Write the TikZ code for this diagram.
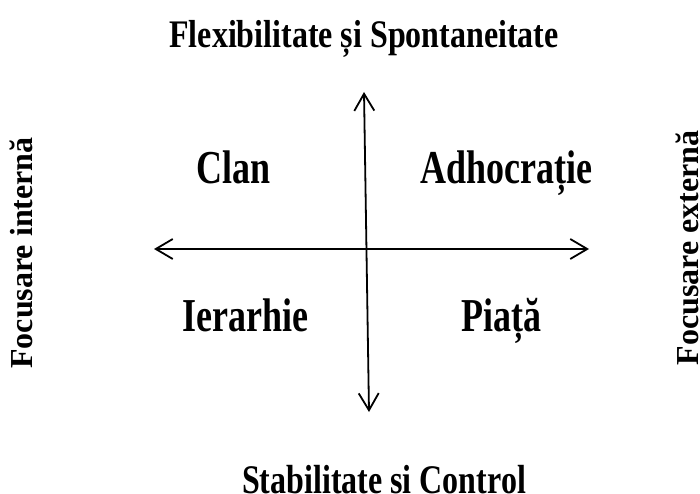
\documentclass[tikz,border=0pt]{standalone}
\usepackage{fontspec}
\usepackage{graphicx}
\setmainfont{Liberation Serif}
\usetikzlibrary{arrows.meta}
\begin{document}
\begin{tikzpicture}[x=1pt,y=-1pt,
  axis/.style={line width=1.8pt, {Straight Barb[length=17pt,width=20pt]}-{Straight Barb[length=17pt,width=20pt]}},
  lbl/.style={inner sep=0pt, anchor=base, font=\bfseries\fontsize{32}{36}\selectfont},
  quad/.style={inner sep=0pt, anchor=base, font=\bfseries\fontsize{36}{40}\selectfont}]
\useasboundingbox (0,0) rectangle (700,494);
\coordinate (top) at (364,92);
\coordinate (bot) at (369,412);
\coordinate (lft) at (154,249);
\coordinate (rgt) at (589,249);
\draw[axis] (top) -- (bot);
\draw[axis] (lft) -- (rgt);
\node[lbl] (title) at (364,47.3) {\scalebox{1}[1.22]{Flexibilitate și Spontaneitate}};
\node[lbl] (bottom) at (384,493) {\scalebox{1}[1.27]{Stabilitate și Control}};
\node[quad] (clan) at (234,183.3) {\scalebox{1}[1.31]{Clan}};
\node[quad] (adh) at (506.7,183.3) {\scalebox{1}[1.31]{Adhocrație}};
\node[quad] (ier) at (245.5,331.7) {\scalebox{1}[1.31]{Ierarhie}};
\node[quad] (pia) at (501.7,331.7) {\scalebox{1}[1.31]{Piață}};
\node[lbl, rotate=90] (fi) at (32.5,253) {Focusare internă};
\node[lbl, rotate=90] (fe) at (698.3,248) {Focusare externă};
\end{tikzpicture}
\end{document}
